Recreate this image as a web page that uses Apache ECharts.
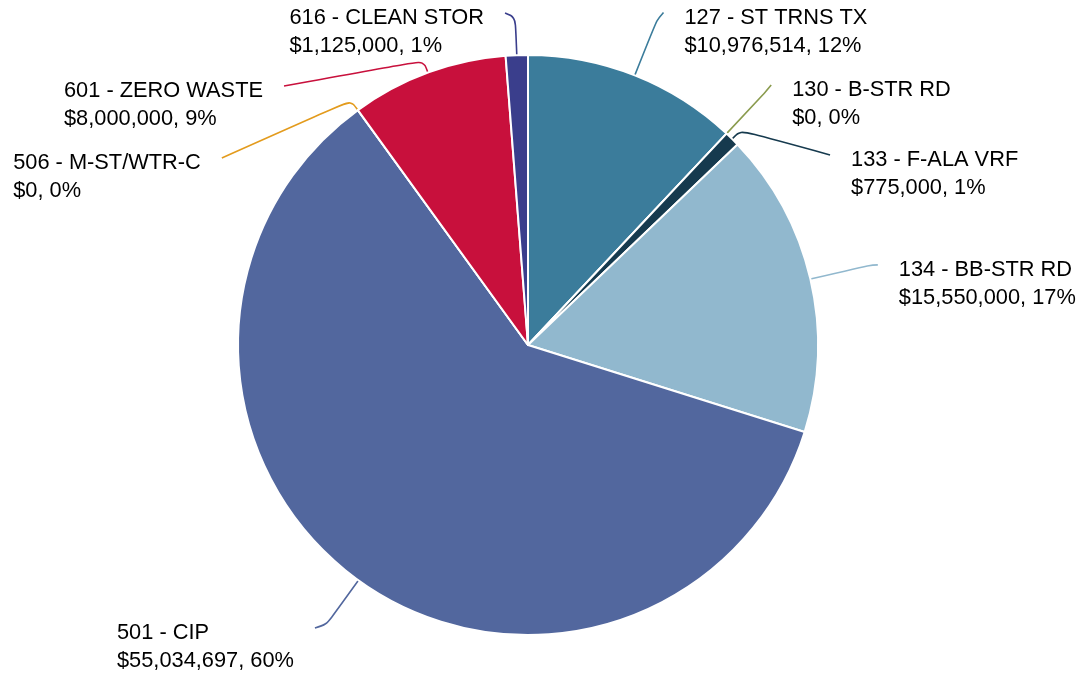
<!DOCTYPE html>
<html>
<head>
<meta charset="utf-8">
<script src="https://cdn.jsdelivr.net/npm/echarts@6/dist/echarts.min.js"></script>
<style>
  html, body { margin: 0; padding: 0; background: #ffffff; }
  #chart { width: 1082px; height: 680px; }
</style>
</head>
<body>
<div id="chart"></div>
<script>
// Fund budget allocation by fund number
const fundNames = [
  '127 - ST TRNS TX',
  '130 - B-STR RD',
  '133 - F-ALA VRF',
  '134 - BB-STR RD',
  '501 - CIP',
  '506 - M-ST/WTR-C',
  '601 - ZERO WASTE',
  '616 - CLEAN STOR'
];
const fundAmounts = [10976514, 0, 775000, 15550000, 55034697, 0, 8000000, 1125000];
const fundColors = ['#3b7c9b', '#8a9b4e', '#163a4e', '#91b8ce', '#52679e', '#e39b1d', '#c8103c', '#3a3e8c'];

// Leader line shape per slice: radial run out of the rim, then offset of the line end from that elbow
const leaderShape = [
  [59, 7, -8],
  [55, 7, -8.5],
  [12, 89.5, 24.5],
  [60, 9, -0.5],
  [55, -11.4, 3.1],
  [12, -129, 57.5],
  [13, -139.5, 25.4],
  [38, -10.3, -4.2]
];

const CX = 528, CY = 345, R = 290;
const TEXT_GAP = 21;

function withCommas(n) {
  return String(n).replace(/\B(?=(\d{3})+(?!\d))/g, ',');
}

const chart = echarts.init(document.getElementById('chart'), null, { renderer: 'canvas' });

chart.setOption({
  backgroundColor: '#ffffff',
  animation: false,
  series: [{
    type: 'pie',
    center: [CX, CY],
    radius: R,
    startAngle: 90,
    clockwise: true,
    avoidLabelOverlap: false,
    minShowLabelAngle: 0,
    data: fundNames.map((name, i) => ({
      name: name,
      value: fundAmounts[i],
      itemStyle: { color: fundColors[i] }
    })),
    itemStyle: { borderColor: '#ffffff', borderWidth: 2 },
    label: {
      show: true,
      position: 'outside',
      alignTo: 'none',
      fontFamily: '"Liberation Sans", Arial, sans-serif',
      fontSize: 21.8,
      lineHeight: 28,
      color: '#000000',
      formatter: p => p.name + '\n$' + withCommas(p.value) + ', ' + Math.round(p.percent) + '%'
    },
    labelLine: {
      show: true,
      smooth: 0.35,
      length: 20,
      length2: 10,
      lineStyle: { width: 1.6 }
    },
    labelLayout: function (params) {
      const i = params.dataIndex;
      const pts = params.labelLinePoints;
      if (!pts) return {};
      const p0 = pts[0];
      let dx = p0[0] - CX, dy = p0[1] - CY;
      const len = Math.sqrt(dx * dx + dy * dy) || 1;
      dx /= len; dy /= len;
      const s = leaderShape[i];
      const elbow = [p0[0] + dx * s[0], p0[1] + dy * s[0]];
      const end = [elbow[0] + s[1], elbow[1] + s[2]];
      const w = params.labelRect.width;
      const rightSide = end[0] > CX;
      return {
        x: rightSide ? end[0] + TEXT_GAP : end[0] - TEXT_GAP - w,
        y: end[1] - 9,
        align: 'left',
        verticalAlign: 'top',
        labelLinePoints: [p0, elbow, end]
      };
    },
    emphasis: { disabled: true }
  }]
});
</script>
</body>
</html>
